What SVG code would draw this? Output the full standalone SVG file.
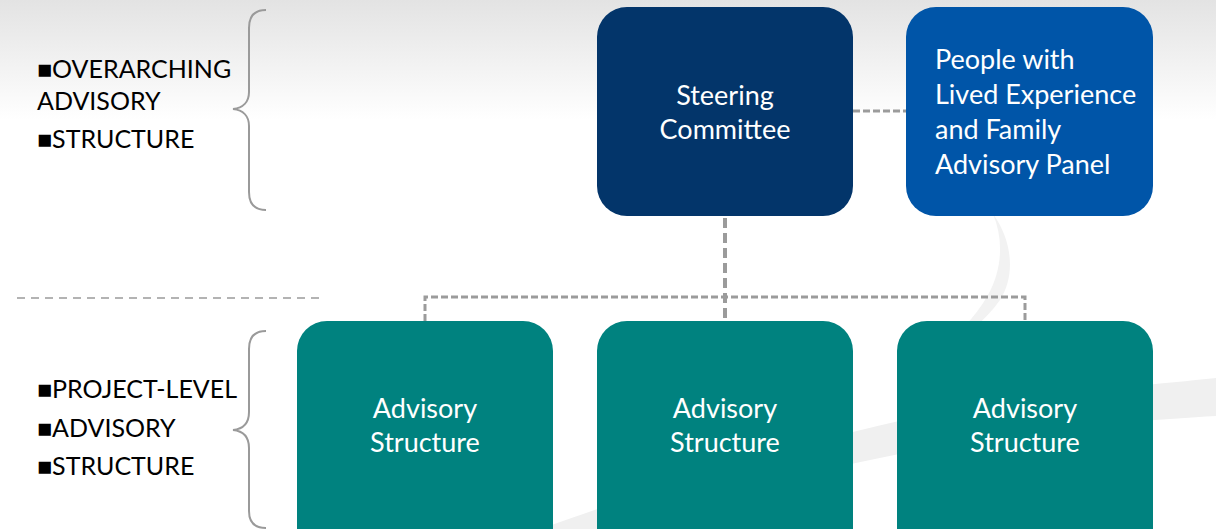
<svg xmlns="http://www.w3.org/2000/svg" width="1216" height="529" viewBox="0 0 1216 529">
<defs>
<linearGradient id="bg" x1="0" y1="0" x2="0" y2="1">
<stop offset="0" stop-color="#e3e3e3"/>
<stop offset="1" stop-color="#ffffff"/>
</linearGradient>
<style>
.lbl{font-family:Lato,"Open Sans","Liberation Sans",sans-serif;font-size:25px;fill:#000}
.nt{font-family:Lato,"Open Sans","Liberation Sans",sans-serif;font-size:27px;fill:#ffffff}
.brace{fill:none;stroke:#9a9a9a;stroke-width:2}
.conn{fill:none;stroke:#9b9b9b;stroke-width:4;stroke-dasharray:10 5}
.connh{fill:none;stroke:#9b9b9b;stroke-width:3;stroke-dasharray:7 3}
</style>
</defs>
<rect x="0" y="0" width="1216" height="529" fill="#ffffff"/>
<rect x="0" y="0" width="1216" height="120" fill="url(#bg)"/>
<g id="swoosh" fill="#f0f0f0">
<path d="M540 529 C650 490 800 440 950 410 C1060 392 1150 385 1216 378 L1216 416 C1150 420 1060 426 950 444 C810 470 680 505 610 529 Z"/>
<path d="M993 214 C1012 240 1016 275 1000 300 C985 322 960 340 930 360 C955 338 975 318 988 295 C1002 270 1004 240 993 214 Z" fill="#f2f2f2"/>
</g>
<g id="left-labels">
<text class="lbl" x="37" y="78">■OVERARCHING</text>
<text class="lbl" x="37" y="110">ADVISORY</text>
<text class="lbl" x="37" y="148">■STRUCTURE</text>
<text class="lbl" x="37" y="398">■PROJECT-LEVEL</text>
<text class="lbl" x="37" y="437">■ADVISORY</text>
<text class="lbl" x="37" y="475">■STRUCTURE</text>
</g>
<g id="braces">
<path class="brace" d="M266 10 C255 10 249 16 249 28 L249 92 C249 102 243 108 233 109 C243 110 249 116 249 126 L249 192 C249 204 255 210 266 210"/>
<path class="brace" d="M266 331 C255 331 249 337 249 349 L249 412 C249 423 243 429 233 430 C243 431 249 437 249 448 L249 511 C249 522 255 528 266 528"/>
</g>
<line x1="17" y1="298" x2="320" y2="298" stroke="#9a9a9a" stroke-width="1.5" stroke-dasharray="8 6"/>
<g id="connectors">
<line class="conn" x1="725" y1="218" x2="725" y2="321"/>
<path class="connh" d="M425 321 L425 297 L1025 297 L1025 321"/>
<line class="connh" x1="853" y1="111" x2="906" y2="111"/>
</g>
<g id="steering">
<rect x="597" y="7" width="256" height="209" rx="30" fill="#03356a"/>
<text class="nt" x="725" y="105" text-anchor="middle">Steering</text>
<text class="nt" x="725" y="139" text-anchor="middle">Committee</text>
</g>
<g id="panel">
<rect x="906" y="7" width="247" height="209" rx="30" fill="#0055a8"/>
<text class="nt" x="935" y="69">People with</text>
<text class="nt" x="935" y="104">Lived Experience</text>
<text class="nt" x="935" y="139">and Family</text>
<text class="nt" x="935" y="174">Advisory Panel</text>
</g>
<g id="adv1">
<rect x="297" y="321" width="256" height="240" rx="30" fill="#00827f"/>
<text class="nt" x="425" y="418" text-anchor="middle">Advisory</text>
<text class="nt" x="425" y="452" text-anchor="middle">Structure</text>
</g>
<g id="adv2">
<rect x="597" y="321" width="256" height="240" rx="30" fill="#00827f"/>
<text class="nt" x="725" y="418" text-anchor="middle">Advisory</text>
<text class="nt" x="725" y="452" text-anchor="middle">Structure</text>
</g>
<g id="adv3">
<rect x="897" y="321" width="256" height="240" rx="30" fill="#00827f"/>
<text class="nt" x="1025" y="418" text-anchor="middle">Advisory</text>
<text class="nt" x="1025" y="452" text-anchor="middle">Structure</text>
</g>
</svg>
